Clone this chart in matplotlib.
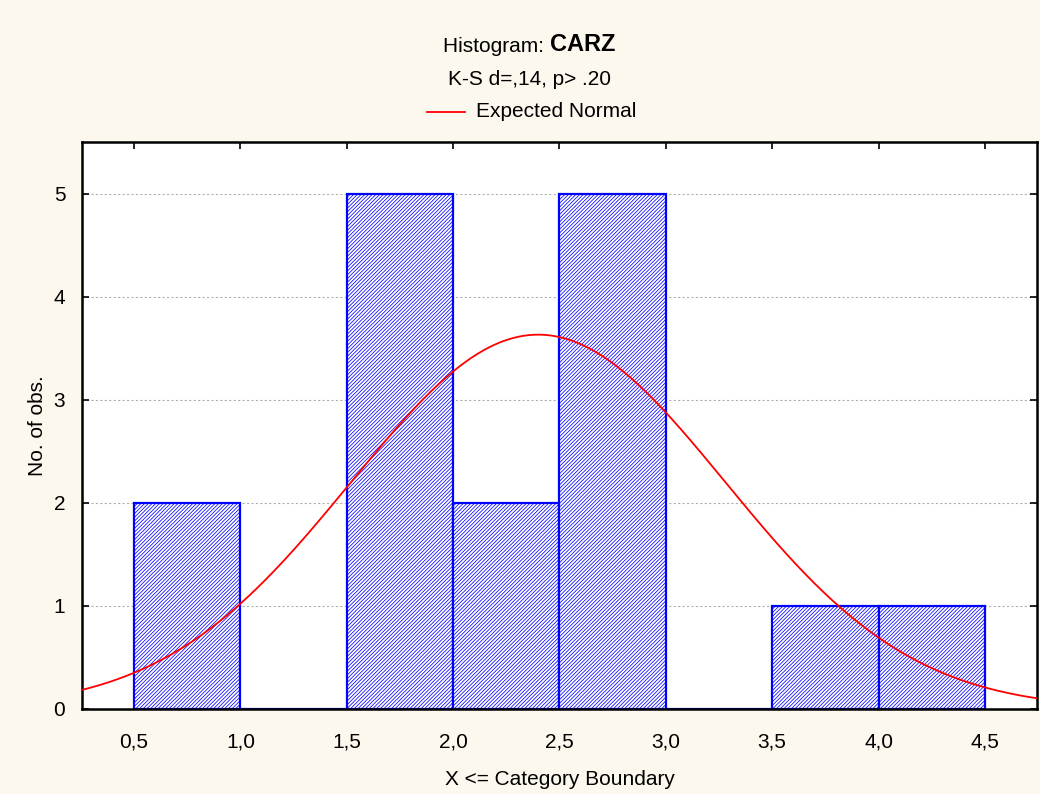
import numpy as np
import matplotlib.pyplot as plt

plt.rcParams['font.family'] = ['Liberation Sans', 'DejaVu Sans']
plt.rcParams['hatch.linewidth'] = 0.55
plt.rcParams['hatch.color'] = '#2a2aff'

# histogram of CARZ: bin edges and counts
bin_edges = [0.5, 1.0, 1.5, 2.0, 2.5, 3.0, 3.5, 4.0, 4.5]
counts = [2, 0, 5, 2, 5, 0, 1, 1]
tick_vals = [0.5, 1.0, 1.5, 2.0, 2.5, 3.0, 3.5, 4.0, 4.5]
tick_labels = ['0,5', '1,0', '1,5', '2,0', '2,5', '3,0', '3,5', '4,0', '4,5']

# expected normal fit
fit_mean = 2.4
fit_sd = 0.879

bg = '#fdf8ee'
fs = 15
fig = plt.figure(figsize=(10.4, 7.94), dpi=100, facecolor=bg)
ax = fig.add_axes([0.0788, 0.1071, 0.9183, 0.7141])
ax.set_facecolor('white')

lefts = np.array(bin_edges[:-1])
widths = np.diff(bin_edges)
ax.bar(lefts, counts, width=widths, align='edge', color='white',
       edgecolor='#0000ff', linewidth=1.6, hatch='/////////', zorder=2)

n = sum(counts)
bw = widths[0]
xs = np.linspace(0.25, 4.75, 400)
ys = n * bw / (fit_sd * np.sqrt(2 * np.pi)) * np.exp(-0.5 * ((xs - fit_mean) / fit_sd) ** 2)
ax.plot(xs, ys, color='#ff0000', linewidth=1.3, zorder=3)

ax.set_xlim(0.255, 4.745)
ax.set_ylim(0, 5.5)
ax.set_xticks(tick_vals)
ax.set_xticklabels(tick_labels)
ax.set_yticks([0, 1, 2, 3, 4, 5])
for yv in [1, 2, 3, 4, 5]:
    ax.axhline(yv, color='#b0b0b0', linestyle=(0, (2, 2)), linewidth=0.8, zorder=1)

ax.tick_params(direction='in', length=5, width=1.2, labelsize=fs,
               top=True, right=True, colors='black')
ax.tick_params(axis='x', pad=17)
ax.tick_params(axis='y', pad=12)
for s in ax.spines.values():
    s.set_linewidth(1.8)
    s.set_color('black')

ax.set_ylabel('No. of obs.', fontsize=fs, labelpad=5)
ax.set_xlabel('X <= Category Boundary', fontsize=fs, labelpad=13)

# title block
fig.text(0.529, 0.942, 'Histogram: ', ha='right', va='center', fontsize=fs)
fig.text(0.529, 0.944, 'CARZ', ha='left', va='center', fontsize=17, fontweight='bold')
fig.text(0.5087, 0.9005, 'K-S d=,14, p> .20', ha='center', va='center', fontsize=fs)
fig.add_artist(plt.Line2D([427 / 1040, 465 / 1040], [0.859, 0.859], color='#ff0000',
                          linewidth=1.3))
fig.text(476 / 1040, 0.859, 'Expected Normal', ha='left', va='center', fontsize=fs)

fig.savefig('out.png', dpi=100, facecolor=bg)
